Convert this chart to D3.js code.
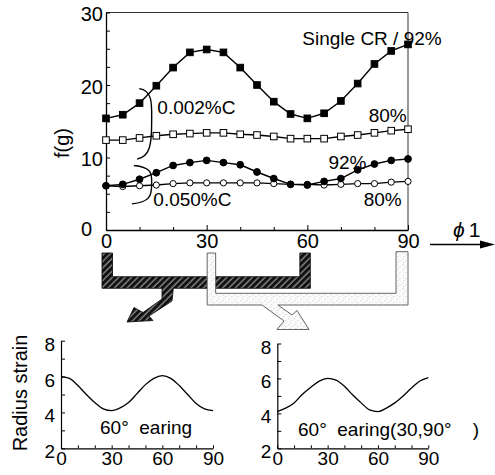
<!DOCTYPE html>
<html><head><meta charset="utf-8">
<script src="https://cdn.jsdelivr.net/npm/d3@7"></script>
<style>
body{margin:0;background:#fff}
text{font-family:"Liberation Sans",Arial,Helvetica,sans-serif;fill:#000}
</style>
</head><body>
<svg id="c" width="495" height="475"></svg>
<script>
// ---- data ----
const phi = [0,5,10,15,20,25,30,35,40,45,50,55,60,65,70,75,80,85,90];
const cr92C002 = [15.4,15.9,17.5,19.9,22.4,24.5,24.9,24.5,22.4,20.0,17.7,16.0,15.4,16.1,17.8,20.2,22.9,24.7,25.6];
const cr80C002 = [12.4,12.4,12.7,13.0,13.2,13.3,13.4,13.4,13.2,13.1,12.9,12.6,12.6,12.6,12.9,13.1,13.4,13.7,13.9];
const cr92C050 = [6.1,6.3,7.0,7.9,8.9,9.3,9.6,9.3,9.0,8.0,7.1,6.3,6.2,6.7,7.1,8.3,9.1,9.6,9.8];
const cr80C050 = [6.1,6.0,6.1,6.2,6.4,6.5,6.5,6.5,6.5,6.5,6.4,6.3,6.3,6.2,6.3,6.4,6.4,6.6,6.7];
const phiTicks = [0,30,60,90];
const fTicks = [0,10,20,30];
const strainPhi = [0,5,10,15,20,25,30,35,40,45,50,55,60,65,70,75,80,85,90];
const strain60 = [6.0,5.9,5.5,5.0,4.55,4.2,4.1,4.25,4.55,5.05,5.55,5.9,6.05,5.9,5.5,5.0,4.5,4.2,4.1];
const strain3090 = [4.1,4.3,4.6,5.1,5.5,5.85,6.0,5.9,5.55,5.05,4.6,4.2,4.1,4.3,4.6,5.0,5.45,5.85,6.05];
const strainTicks = [2,4,6,8];

const svg = d3.select("#c");
const FS = 19;

// ---- defs ----
const defs = svg.append("defs");
const hatch = defs.append("pattern").attr("id","hatch").attr("patternUnits","userSpaceOnUse")
  .attr("width",4.5).attr("height",4.5).attr("patternTransform","rotate(45)");
hatch.append("rect").attr("width",4.5).attr("height",4.5).attr("fill","#111");
hatch.append("line").attr("x1",1).attr("x2",1).attr("y1",0).attr("y2",4.5).attr("stroke","#fff").attr("stroke-width",0.7);
const stip = defs.append("pattern").attr("id","stip").attr("patternUnits","userSpaceOnUse")
  .attr("width",6).attr("height",6);
stip.append("rect").attr("width",6).attr("height",6).attr("fill","#fbfbfb");
[[0.5,0.5],[3.5,2],[1.5,4]].forEach(p=>stip.append("rect").attr("x",p[0]).attr("y",p[1]).attr("width",0.8).attr("height",0.8).attr("fill","#b0b0b0"));

// ---- top chart ----
const x = d3.scaleLinear().domain([0,90]).range([106,408]);
const y = d3.scaleLinear().domain([0,30]).range([230,12.5]);

// frame (top & right)
svg.append("path").attr("d",`M${x(0)},${y(30)}H${x(90)}V${y(0)}`).attr("fill","none").attr("stroke","#333").attr("stroke-width",1);

const gy = svg.append("g").attr("transform",`translate(${x(0)},0)`)
  .call(d3.axisLeft(y).tickValues(d3.range(0,30.01,2.5)).tickSize(-4).tickSizeOuter(0).tickPadding(3)
    .tickFormat(d=> fTicks.includes(d)? d : ""));
const gx = svg.append("g").attr("transform",`translate(0,${y(0)})`)
  .call(d3.axisBottom(x).tickValues(d3.range(0,90.01,10)).tickSize(-3).tickSizeOuter(0).tickPadding(4)
    .tickFormat(d=> phiTicks.includes(d)? d : ""));
gx.selectAll(".tick line").attr("y2",d=> (d%30===0)? -5 : -3);
[gx,gy].forEach(g=>{g.selectAll("text").attr("font-size",FS+1).attr("font-family",null);
  g.select(".domain").attr("stroke-width",1.3);});
gy.selectAll("text").attr("dy","0.4em");
gy.selectAll(".tick").filter(d=>d===0).select("text").attr("x",-14).attr("dy","0.25em");
gx.selectAll("text").attr("dy","0.72em");

const lineT = d3.line().x((d,i)=>x(phi[i])).y(d=>y(d));
function series(vals, shape, filled){
  svg.append("path").attr("d",lineT(vals)).attr("fill","none").attr("stroke","#000").attr("stroke-width",1.4);
  const g = svg.append("g");
  vals.forEach((v,i)=>{
    if(shape==="sq"){
      g.append("rect").attr("x",x(phi[i])-3.3).attr("y",y(v)-3.3).attr("width",6.6).attr("height",6.6)
        .attr("fill",filled?"#000":"#fff").attr("stroke","#000").attr("stroke-width",1);
    } else {
      g.append("circle").attr("cx",x(phi[i])).attr("cy",y(v)).attr("r",filled?3.4:3.1)
        .attr("fill",filled?"#000":"#fff").attr("stroke","#000").attr("stroke-width",1);
    }
  });
}
series(cr80C002,"sq",false);
series(cr92C002,"sq",true);
series(cr80C050,"ci",false);
series(cr92C050,"ci",true);

// brackets
function bracket(y0,y1,xl,xr){
  const a=x(xl), b=x(xr), t=y(y0), u=y(y1), m=(t+u)/2;
  return `M${a+1},${t} C${b+2},${t+2} ${b},${m-(u-t)*0.25} ${b},${m} C${b},${m+(u-t)*0.3} ${b-2},${u-2} ${a-1},${u}`;
}
svg.append("path").attr("d",bracket(19.5,9.8,9.6,13.6)).attr("fill","none").attr("stroke","#000").attr("stroke-width",1.4);
svg.append("path").attr("d",bracket(8.9,3.6,8.0,13.6)).attr("fill","none").attr("stroke","#000").attr("stroke-width",1.4);

function label(t, xv, yv, opts={}){
  return svg.append("text").attr("x",xv).attr("y",yv).attr("dy","0.36em").attr("font-size",opts.fs||FS)
    .attr("text-anchor",opts.anchor||"start").style("white-space","pre").text(t);
}
label("Single CR / 92%", x(58.5), y(26.4));
label("0.002%C", x(15.3), y(16.9));
label("80%", x(78.3), y(15.9));
label("92%", x(66.3), y(9.4));
label("0.050%C", x(14.1), y(4.2));
label("80%", x(76.8), y(4.2));
svg.append("text").attr("transform",`translate(${62},${y(12)}) rotate(-90)`).attr("dy","0.36em")
  .attr("text-anchor","middle").attr("font-size",FS+1).text("f(g)");

// phi1 arrow
const ph = svg.append("text").attr("x",453).attr("y",229).attr("dy","0.36em").attr("font-size",FS+2);
ph.append("tspan").attr("font-style","italic").text("ϕ");
ph.append("tspan").attr("dx",4).text("1");
svg.append("line").attr("x1",430).attr("x2",484).attr("y1",244.5).attr("y2",244.5).attr("stroke","#000").attr("stroke-width",1.3);
svg.append("path").attr("d","M480,240.5L495,244.5L480,248.5Z").attr("fill","#000");

// ---- selection brackets ----
const legW = 10.5, topY = 253, dBar0 = 276.7, dBar1 = 288.3;
const d0 = x(0)-4, d60 = x(60)+3;
const darkPath = `M${d0},${topY}H${d0+legW}V${dBar0}H${d60-legW}V${topY}H${d60}V${dBar1}`+
  `H173.3L172,301L149,316L153,320.5L127,322L134,307.5L143,312.5L162,299L162,${dBar1}H${d0}Z`;
svg.append("path").attr("d",darkPath).attr("fill","url(#hatch)").attr("stroke","#000").attr("stroke-width",0.8);

const l0 = x(30)+0.5, l90 = x(90), lBar0 = 293.3, lBar1 = 305;
const lightPath = `M${l0},${topY}H${l0+8.5}V${lBar0}H${l90-12}V${251.7}H${l90}V${lBar1}`+
  `H278L292,315L297,310.5L309,329.5L277,329.5L284,321L262,${lBar1}H${l0}Z`;
svg.append("path").attr("d",lightPath).attr("fill","url(#stip)").attr("stroke","#555").attr("stroke-width",0.9);

// ---- bottom charts ----
function strainChart(vals, xr, yr){
  const sx = d3.scaleLinear().domain([0,90]).range(xr);
  const sy = d3.scaleLinear().domain([2,8]).range(yr);
  const ga = svg.append("g").attr("transform",`translate(${xr[0]},0)`)
    .call(d3.axisLeft(sy).tickValues(d3.range(2,8.01,1)).tickSize(-4).tickSizeOuter(0).tickPadding(6)
      .tickFormat(d=> strainTicks.includes(d)? d : ""));
  const gb = svg.append("g").attr("transform",`translate(0,${yr[0]})`)
    .call(d3.axisBottom(sx).tickValues(d3.range(0,90.01,10)).tickSize(-3).tickSizeOuter(0).tickPadding(3)
      .tickFormat(d=> phiTicks.includes(d)? d : ""));
  [ga,gb].forEach(g=>{g.selectAll("text").attr("font-size",FS).attr("font-family",null);
    g.select(".domain").attr("stroke-width",1.2);});
  ga.selectAll("text").attr("dy","0.5em");
  gb.selectAll("text").attr("dy","0.72em");
  svg.append("path").attr("d",d3.line().curve(d3.curveMonotoneX).x((d,i)=>sx(strainPhi[i])).y(d=>sy(d))(vals))
    .attr("fill","none").attr("stroke","#000").attr("stroke-width",1.3);
  return {sx,sy};
}
strainChart(strain60,[61,213],[448.3,340.7]);
strainChart(strain3090,[277.3,428.3],[448.3,343.5]);
svg.append("text").attr("transform",`translate(20,393) rotate(-90)`).attr("dy","0.36em")
  .attr("text-anchor","middle").attr("font-size",FS+1).text("Radius strain");
label("60°  earing", 100, 427);
label("60°  earing(30,90°    )", 298, 429);
</script>
</body></html>
